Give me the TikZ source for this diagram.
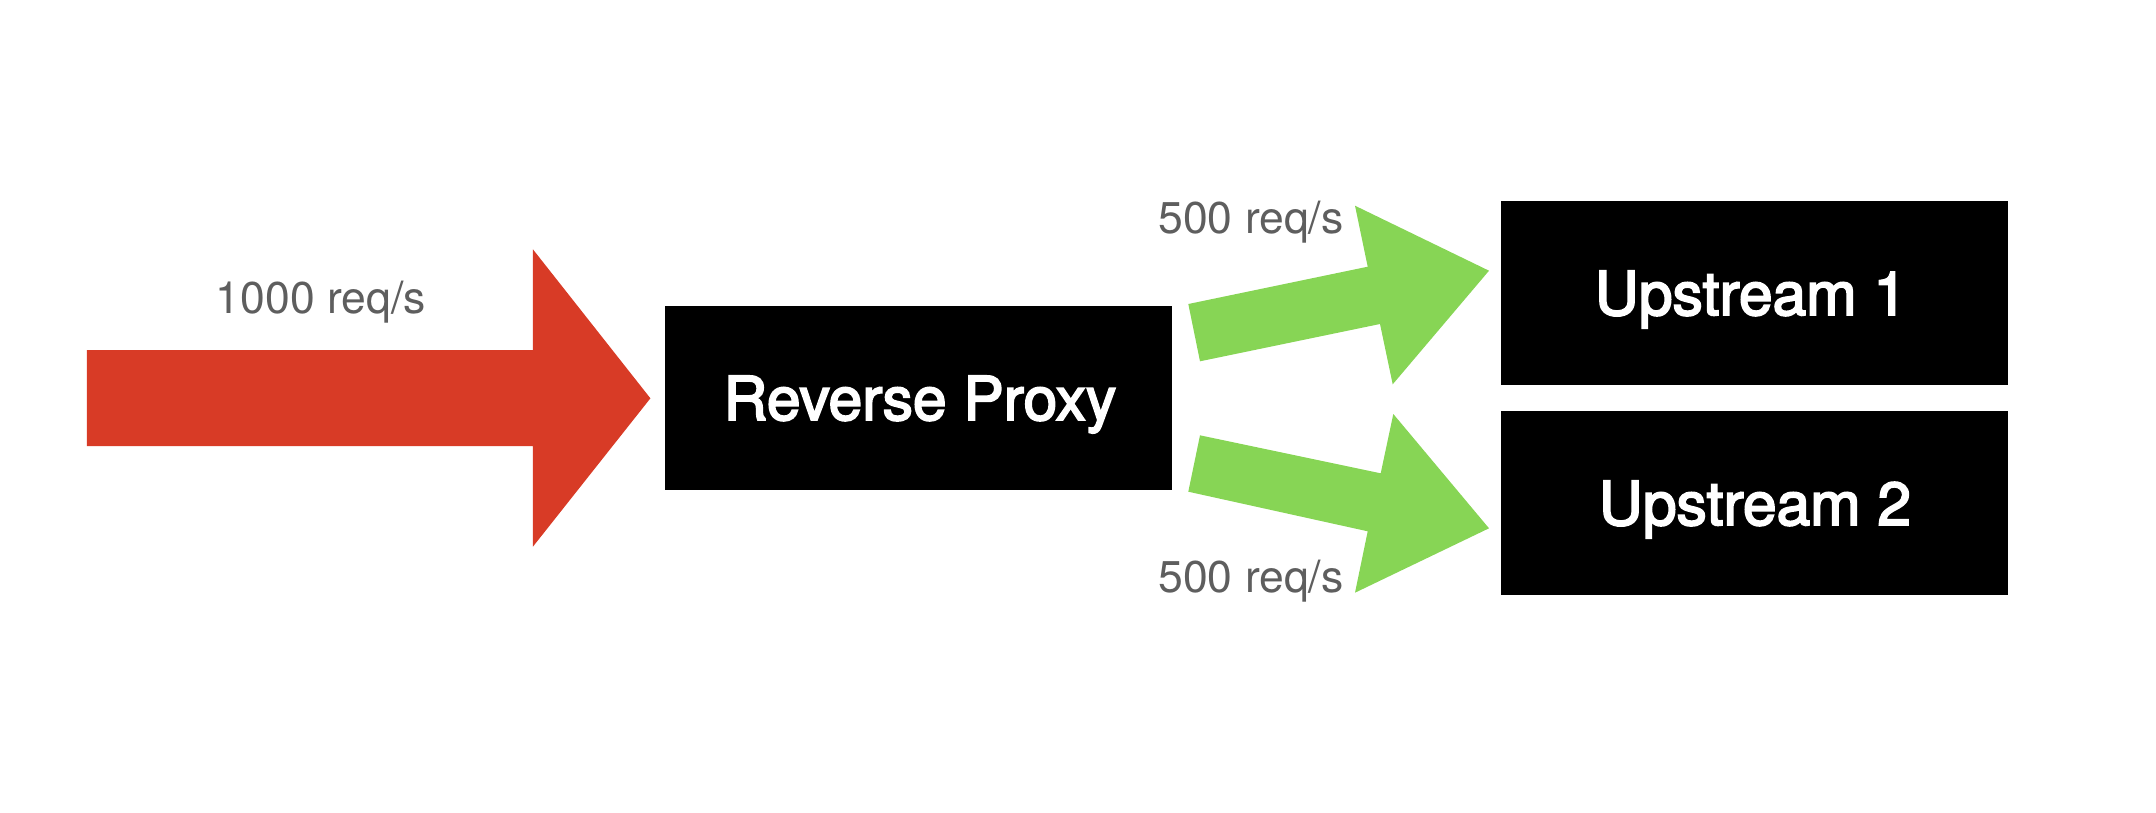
\documentclass[tikz,border=0pt]{standalone}
\usepackage{fontspec}
\setmainfont{TeX Gyre Heros}
\newfontfamily\boxfont[FakeBold=3]{TeX Gyre Heros}
\definecolor{redarrow}{HTML}{D83B26}
\definecolor{greenarrow}{HTML}{87D555}
\definecolor{labelgray}{HTML}{5E5E5E}
\tikzset{
  box/.style={fill=black, draw=none, inner sep=0pt, minimum width=506.7pt, minimum height=184pt},
  boxtext/.style={text=white, inner sep=0pt, anchor=base, font=\boxfont\fontsize{60.5}{70}\selectfont},
  ratelabel/.style={text=labelgray, inner sep=0pt, anchor=base, font=\fontsize{44.5}{52}\selectfont},
  redflow/.style={fill=redarrow, draw=none},
  greenflow/.style={fill=greenarrow, draw=none}
}
\begin{document}
\begin{tikzpicture}[x=1pt,y=-1pt]
\useasboundingbox (0,0) rectangle (2156,812);
% boxes
\node[box] (proxy) at (918.35,398) {};
\node[box] (up1) at (1754.3,293) {};
\node[box] (up2) at (1754.3,503) {};
\node[boxtext] (proxytext) at (920,420) {Reverse Proxy};
\node[boxtext] (up1text) at (1751,315) {Upstream 1};
\node[boxtext] (up2text) at (1755,525) {Upstream 2};
% red incoming arrow
\fill[redflow] (86.9,350) -- (532.9,350) -- (532.9,249.3) -- (650.4,398.3)
  -- (532.9,546.7) -- (532.9,446) -- (86.9,446) -- cycle;
% green arrows
\fill[greenflow] (1188.3,304) -- (1367.7,266.7) -- (1355,205.7) -- (1489,270.7)
  -- (1392.7,384.3) -- (1380,324) -- (1200,361.3) -- cycle;
\fill[greenflow] (1200,435.3) -- (1380.7,473.3) -- (1393.3,414) -- (1489,528.3)
  -- (1355,592.7) -- (1367.7,531.3) -- (1188.3,491.7) -- cycle;
% labels
\node[ratelabel] (inrate) at (320.7,313.3) {1000 req/s};
\node[ratelabel] (rate1) at (1251,233.3) {500 req/s};
\node[ratelabel] (rate2) at (1251,592.7) {500 req/s};
\end{tikzpicture}
\end{document}
